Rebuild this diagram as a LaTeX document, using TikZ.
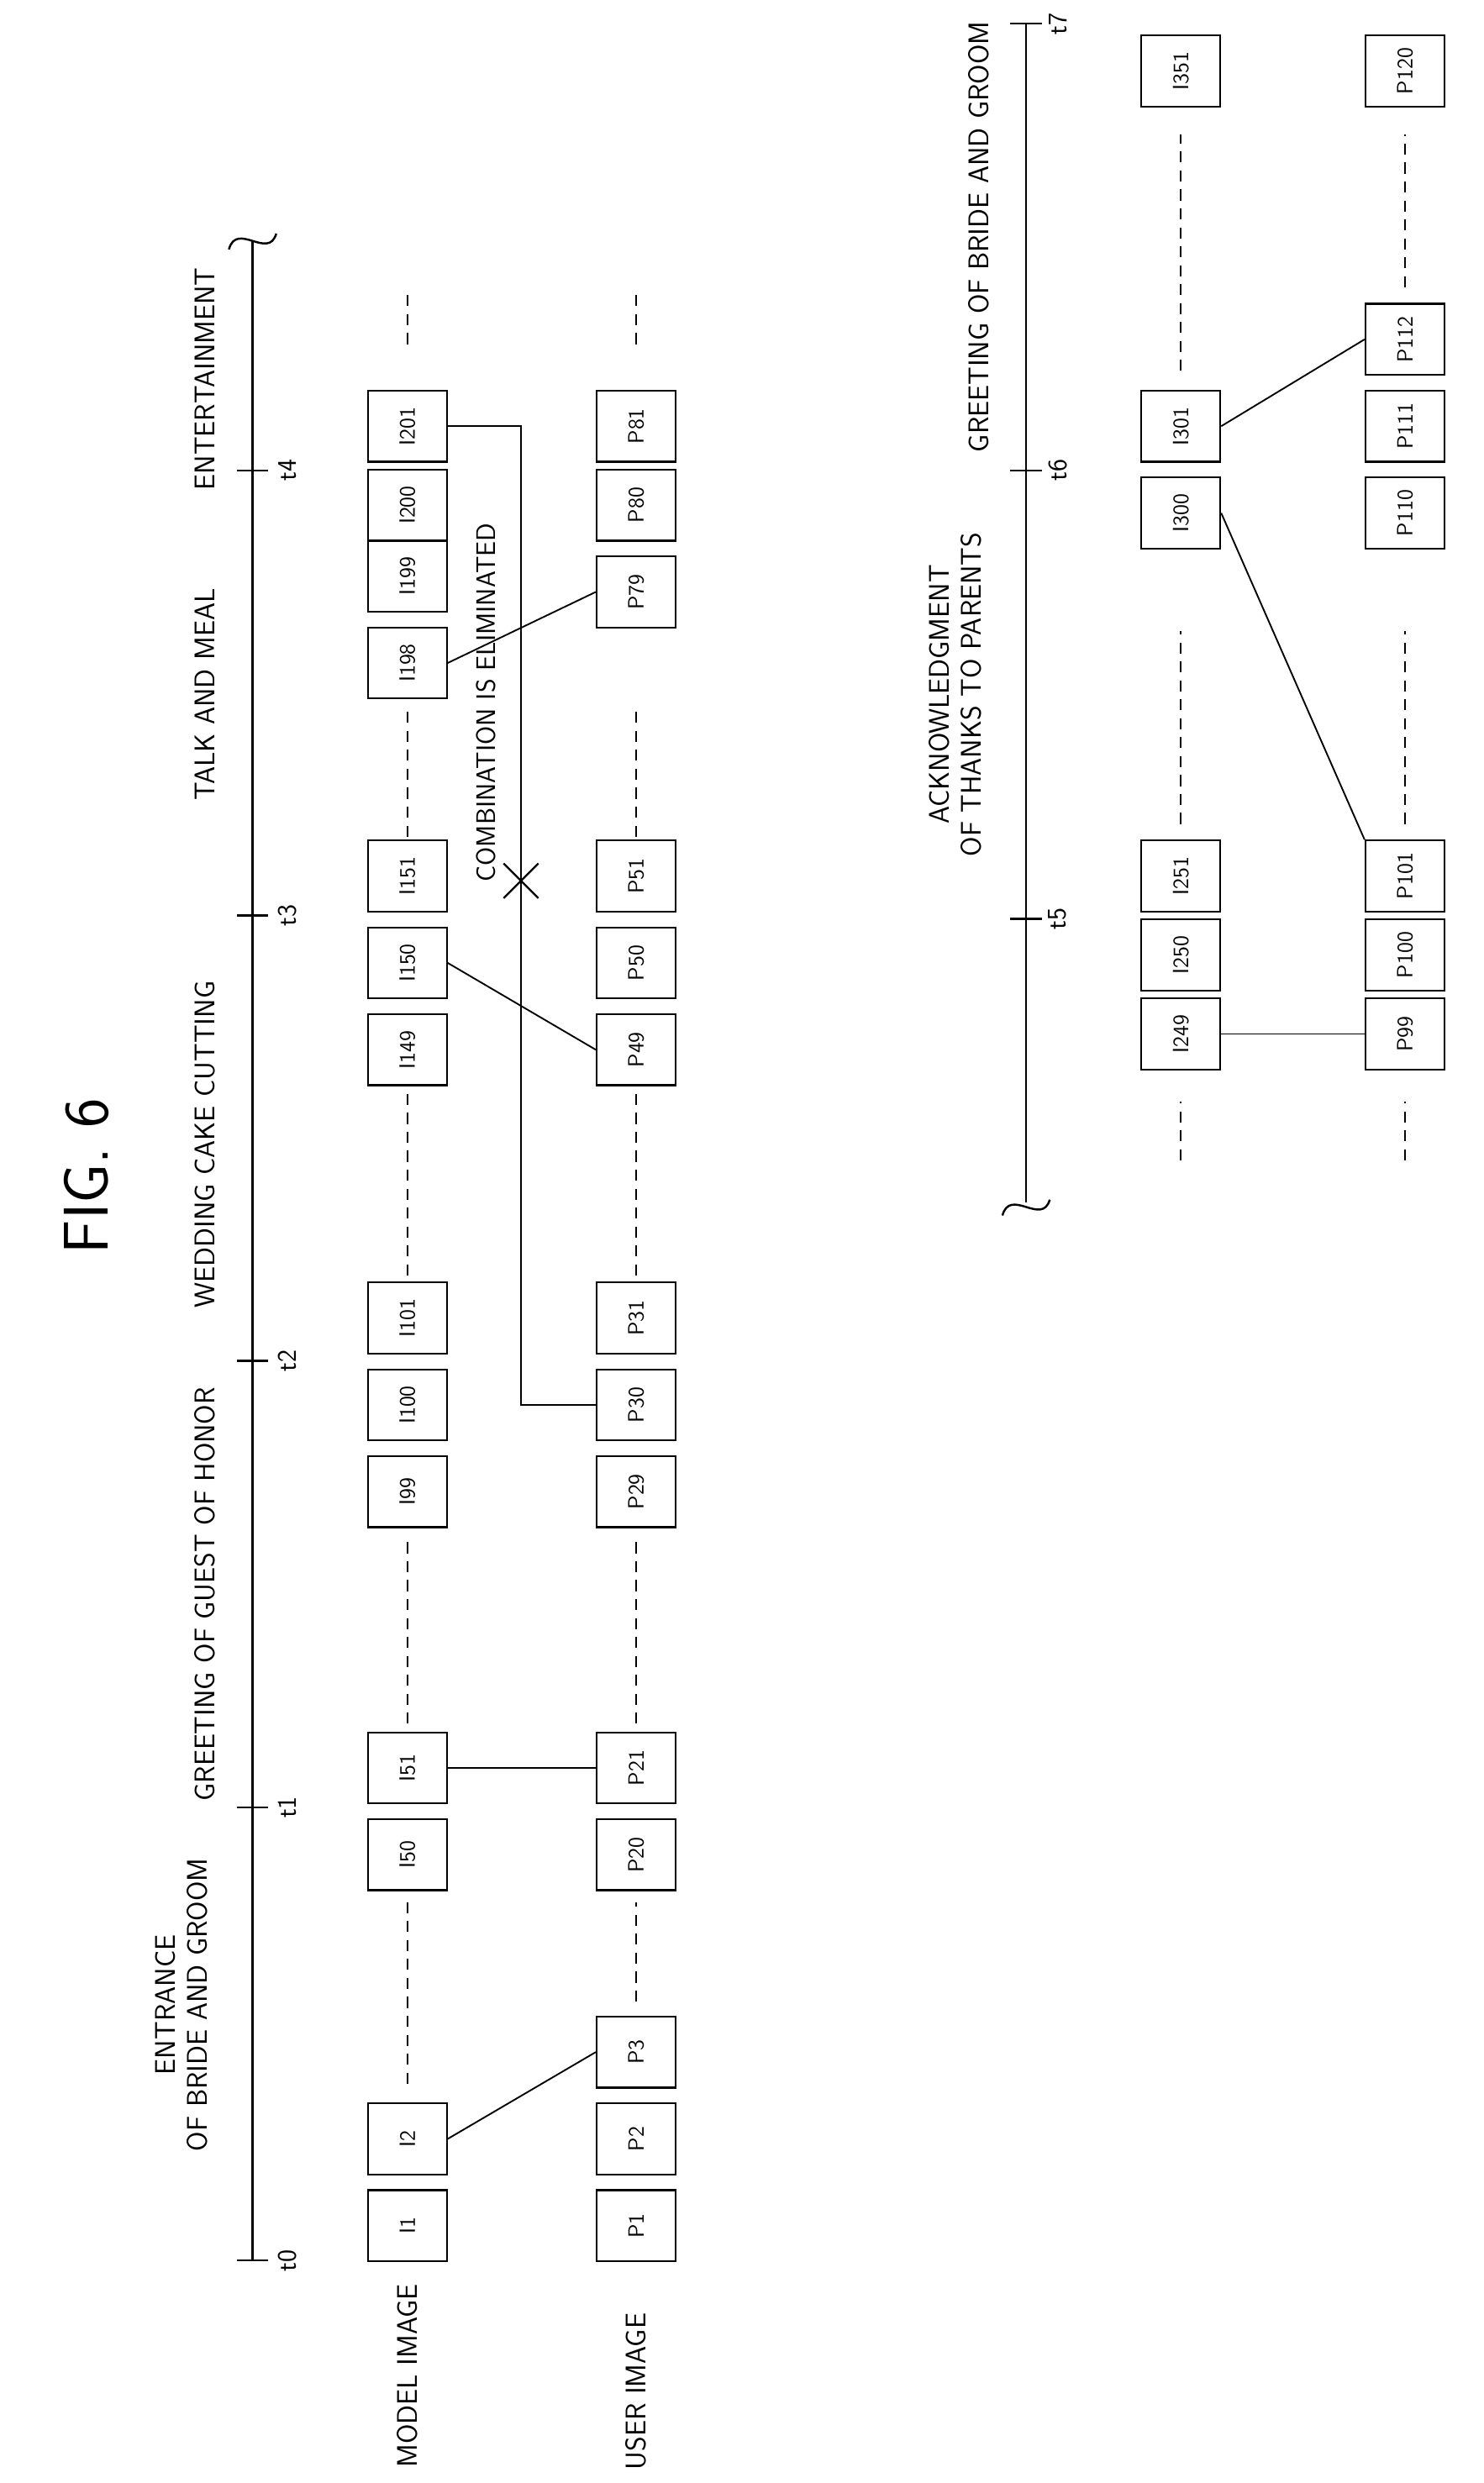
\documentclass[tikz,border=0pt]{standalone}
\usetikzlibrary{calc}
\begin{document}
\begin{tikzpicture}[x=1pt,y=-1pt,
  box/.style={draw,line width=1.2pt,minimum width=50pt,minimum height=45pt,inner sep=0pt,font=\sffamily\fontsize{14}{14}\selectfont},
  lbl/.style={rotate=90,font=\sffamily\fontsize{18}{20}\selectfont,align=center},
  tck/.style={rotate=90,font=\sffamily\fontsize{17}{17}\selectfont},
  dsh/.style={line width=1pt,dash pattern=on 7pt off 5pt}]
\useasboundingbox (0,0) rectangle (940,1573);

%title
\node[rotate=90,font=\sffamily\fontsize{40}{40}\selectfont] (fig) at (55,745) {FIG. 6};

%upper time axis
\draw[line width=1.3pt] (160,1432) -- (160,152);
\draw[line width=1.3pt] (145,158) .. controls (150,140) and (170,165) .. (175,148);
\foreach \t/\y in {0/1432,1/1145,2/862,3/580,4/298}{
  \draw[line width=1.3pt] (150,\y) -- (170,\y);
  \node[tck] (t\t) at (182,\y) {t\t};
}
\node[lbl] (ph1) at (115,1270) {ENTRANCE\\OF BRIDE AND GROOM};
\node[lbl] (ph2) at (130,1010) {GREETING OF GUEST OF HONOR};
\node[lbl] (ph3) at (130,725) {WEDDING CAKE CUTTING};
\node[lbl] (ph4) at (130,440) {TALK AND MEAL};
\node[lbl] (ph5) at (130,240) {ENTERTAINMENT};
\node[lbl] (model) at (258,1505) {MODEL IMAGE};
\node[lbl] (user) at (403,1515) {USER IMAGE};

%upper rows
\foreach \n/\y in {1/1410,2/1355,50/1175,51/1120,99/945,100/890,101/835,149/665,150/610,151/555,198/420,199/365,200/320,201/270}
  \node[box] (I\n) at (258,\y) {\rotatebox{90}{I\n}};
\foreach \n/\y in {1/1410,2/1355,3/1300,20/1175,21/1120,29/945,30/890,31/835,49/665,50/610,51/555,79/375,80/320,81/270}
  \node[box] (P\n) at (403,\y) {\rotatebox{90}{P\n}};
\draw[dsh] (258,1320) -- (258,1205);
\draw[dsh] (403,1268) -- (403,1205);
\foreach \x in {258,403}{
  \draw[dsh] (\x,1092) -- (\x,975);
  \draw[dsh] (\x,808) -- (\x,692);
  \draw[dsh] (\x,530) -- (\x,450);
  \draw[dsh] (\x,218) -- (\x,183);
}

%combinations
\draw[line width=1pt] (I2.east) -- (P3.west);
\draw[line width=1pt] (I51.east) -- (P21.west);
\draw[line width=1pt] (I150.east) -- (P49.west);
\draw[line width=1pt] (I198.east) -- (P79.west);
\draw[line width=1pt] (I201.east) -- (330,270) |- (P30.west);
\coordinate (elim) at (330,558);
\draw[line width=1.2pt] ($(elim)+(-11,-11)$) -- ($(elim)+(11,11)$) ($(elim)+(-11,11)$) -- ($(elim)+(11,-11)$);
\node[lbl,font=\sffamily\fontsize{17}{19}\selectfont] (elimtxt) at (308,445) {COMBINATION IS ELIMINATED};

%lower time axis
\draw[line width=1.3pt] (650,762) -- (650,15);
\draw[line width=1.3pt] (635,770) .. controls (640,752) and (660,777) .. (665,760);
\foreach \t/\y in {5/582,6/298,7/15}{
  \draw[line width=1.3pt] (640,\y) -- (660,\y);
  \node[tck] (t\t) at (670,\y) {t\t};
}
\node[lbl] (ph6) at (605,440) {ACKNOWLEDGMENT\\OF THANKS TO PARENTS};
\node[lbl] (ph7) at (620,150) {GREETING OF BRIDE AND GROOM};

%lower rows
\foreach \n/\y in {249/655,250/605,251/555,300/325,301/270,351/45}
  \node[box] (I\n) at (748,\y) {\rotatebox{90}{I\n}};
\foreach \n/\y in {99/655,100/605,101/555,110/325,111/270,112/215,120/45}
  \node[box] (P\n) at (890,\y) {\rotatebox{90}{P\n}};
\foreach \x in {748,890}{
  \draw[dsh] (\x,735) -- (\x,698);
  \draw[dsh] (\x,522) -- (\x,400);
}
\draw[dsh] (748,235) -- (748,85);
\draw[dsh] (890,182) -- (890,85);
\draw[line width=1pt] (I249.east) -- (P99.west);
\draw[line width=1pt] (I300.east) -- (P101.north west);
\draw[line width=1pt] (I301.east) -- (P112.west);
\end{tikzpicture}
\end{document}
